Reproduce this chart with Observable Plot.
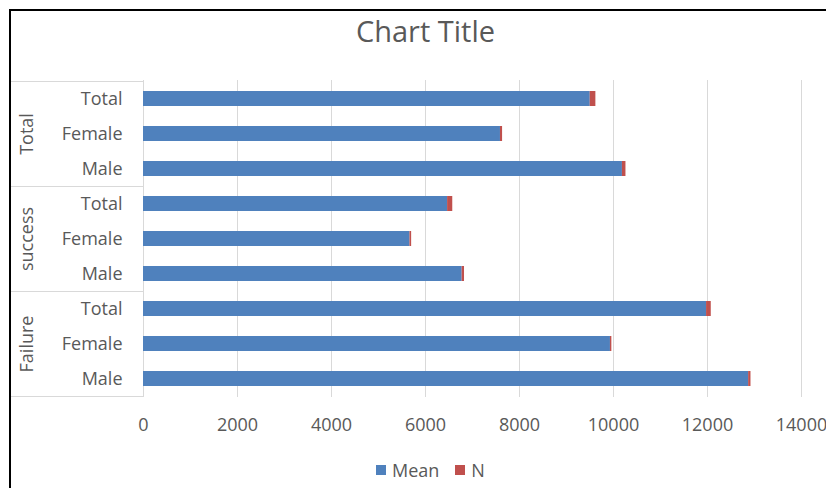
<!DOCTYPE html>
<html>
<head>
<meta charset="utf-8">
<script src="https://cdn.jsdelivr.net/npm/d3@7"></script>
<script src="https://cdn.jsdelivr.net/npm/@observablehq/plot@0.6"></script>
<style>
  body { margin: 0; background: #fff; font-family: "Open Sans", sans-serif; color: #595959; overflow: hidden; }
  #page { position: relative; width: 826px; height: 488px; overflow: hidden; }
  #frame { position: absolute; left: 9px; top: 9px; width: 900px; height: 600px;
           border-top: 2px solid #000; border-left: 2px solid #000; pointer-events: none; }
  #title { position: absolute; left: 10px; width: 831px; top: 11px; text-align: center;
           font-size: 29px; line-height: 40px; }
  #chart { position: absolute; left: 0; top: 60px; }
  #legend { position: absolute; left: 376px; top: 458px; font-size: 18px; line-height: 24px;
            display: flex; align-items: center; white-space: nowrap; }
  .item { display: flex; align-items: center; margin-right: 16px; }
  .sw { display: inline-block; width: 10px; height: 10px; margin-right: 6px; }
</style>
</head>
<body>
<div id="page">
  <div id="frame"></div>
  <div id="title">Chart Title</div>
  <div id="chart"></div>
  <div id="legend"></div>
</div>
<script>
// Outer categories (top to bottom) and the sub-categories inside each one
const groups = ["Total", "success", "Failure"];
const subCategories = ["Total", "Female", "Male"];

// Values per row, in the same top-to-bottom order
const meanValues = [9505, 7595, 10190, 6470, 5670, 6780, 11980, 9935, 12875];
const nValues = [120, 45, 75, 110, 35, 50, 100, 30, 50];

// Series and x-axis ticks
const seriesNames = ["Mean", "N"];
const seriesColors = ["#4f81bd", "#c0504d"];
const xTicks = [0, 2000, 4000, 6000, 8000, 10000, 12000, 14000];

const rows = groups.flatMap((g, gi) =>
  subCategories.map((s, si) => ({
    key: `${g}|${s}`,
    group: g,
    sub: s,
    mean: meanValues[gi * subCategories.length + si],
    n: nValues[gi * subCategories.length + si]
  }))
);

const long = rows.flatMap(r => [
  {key: r.key, series: seriesNames[0], value: r.mean},
  {key: r.key, series: seriesNames[1], value: r.n}
]);

const chart = Plot.plot({
  width: 826,
  height: 390,
  marginTop: 20,
  marginBottom: 53,
  marginLeft: 143,
  marginRight: 25,
  style: {fontFamily: "Open Sans", fontSize: "18px", color: "#595959", background: "transparent", overflow: "visible"},
  x: {domain: [0, 14000], label: null},
  y: {domain: rows.map(d => d.key), padding: 0, label: null},
  color: {domain: seriesNames, range: seriesColors},
  marks: [
    Plot.ruleX(xTicks, {stroke: "#d9d9d9", strokeWidth: 1}),
    Plot.barX(long, {y: "key", x: "value", fill: "series", insetTop: 10, insetBottom: 10}),
    Plot.axisX({ticks: xTicks, tickSize: 0, tickPadding: 21, tickFormat: d => String(d), label: null}),
    Plot.axisY({tickSize: 0, tickPadding: 21, tickFormat: k => k.split("|")[1], label: null}),
    Plot.text(rows.filter(r => r.sub === "Female"), {
      y: "key", text: "group", frameAnchor: "left", textAnchor: "middle",
      dx: -116, rotate: -90, fontSize: 18, fill: "#595959"
    })
  ]
});

document.getElementById("chart").appendChild(chart);

// Category box: group separators spanning the label column
const ys = chart.scale("y");
const xs = chart.scale("x");
const x0 = xs.apply(0);
const frameLeft = 11;
const lastKey = rows[rows.length - 1].key;
const bounds = groups.map(g => ys.apply(`${g}|${subCategories[0]}`));
bounds.push(ys.apply(lastKey) + ys.bandwidth);
const svg = d3.select(chart);
svg.append("g")
  .attr("stroke", "#d9d9d9")
  .attr("stroke-width", 1)
  .selectAll("line")
  .data(bounds)
  .join("line")
  .attr("x1", frameLeft)
  .attr("x2", x0)
  .attr("y1", d => Math.round(d) + 0.5)
  .attr("y2", d => Math.round(d) + 0.5);

// Legend
const legend = d3.select("#legend");
seriesNames.forEach((name, i) => {
  const item = legend.append("span").attr("class", "item");
  item.append("span").attr("class", "sw").style("background", seriesColors[i]);
  item.append("span").text(name);
});
</script>
</body>
</html>
